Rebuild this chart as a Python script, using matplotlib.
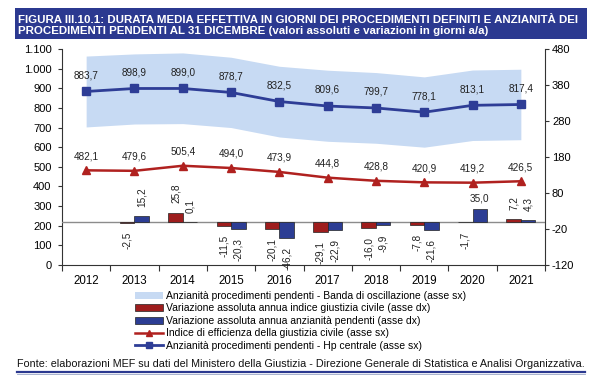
import matplotlib
matplotlib.use("Agg")
import matplotlib.pyplot as plt
import numpy as np
from matplotlib import font_manager
from matplotlib.patches import Rectangle, Patch
from matplotlib.lines import Line2D
from matplotlib.ticker import FuncFormatter

# --- dati ---
anni = ["2012", "2013", "2014", "2015", "2016", "2017", "2018", "2019", "2020", "2021"]
anzianita = [883.7, 898.9, 899.0, 878.7, 832.5, 809.6, 799.7, 778.1, 813.1, 817.4]
indice = [482.1, 479.6, 505.4, 494.0, 473.9, 444.8, 428.8, 420.9, 419.2, 426.5]
banda_sup = [1064, 1075, 1080, 1058, 1012, 992, 980, 958, 993, 997]
banda_inf = [703, 718, 720, 700, 652, 630, 620, 600, 634, 638]
var_indice = [None, -2.5, 25.8, -11.5, -20.1, -29.1, -16.0, -7.8, -1.7, 7.2]
var_anzianita = [None, 15.2, 0.1, -20.3, -46.2, -22.9, -9.9, -21.6, 35.0, 4.3]
# etichette scritte in orizzontale nel grafico originale
etichette_orizzontali = {("blu", "2020")}

nomi = [f.name for f in font_manager.fontManager.ttflist]
FONT = "Liberation Sans"
NARROW = "Liberation Sans Narrow" if "Liberation Sans Narrow" in nomi else "Liberation Sans"

BLU_TITOLO = "#2b3990"
BLU = "#2e3d96"
ROSSO = "#b0211f"
BAR_ROSSO = "#9e1d1d"
BAR_BLU = "#2c3d94"
BANDA = "#c7daf3"


def it_num(v, dec=1):
    s = f"{v:,.{dec}f}"
    return s.replace(",", "X").replace(".", ",").replace("X", ".")


fig = plt.figure(figsize=(6, 3.83), dpi=100)
W, H = 600, 383

# banner del titolo
fig.patches.append(Rectangle((15 / W, 1 - 38.5 / H), 572 / W, 31 / H, transform=fig.transFigure,
                             facecolor=BLU_TITOLO, edgecolor="none"))
fig.text(17.5 / W, 1 - 20 / H,
         "FIGURA III.10.1: DURATA MEDIA EFFETTIVA IN GIORNI DEI PROCEDIMENTI DEFINITI E ANZIANITÀ DEI",
         color="white", fontsize=8.25, fontweight="bold", family=NARROW, va="center", ha="left")
fig.text(17.5 / W, 1 - 31.5 / H,
         "PROCEDIMENTI PENDENTI AL 31 DICEMBRE (valori assoluti e variazioni in giorni a/a)",
         color="white", fontsize=8.25, fontweight="bold", family=NARROW, va="center", ha="left")

ax = fig.add_axes([62 / W, 1 - 265 / H, 483 / W, 216 / H])
ax2 = ax.twinx()
x = np.arange(len(anni))

# asse sinistro: banda e linee
ax.fill_between(x, banda_inf, banda_sup, color=BANDA, lw=0, zorder=1)
ax.plot(x, anzianita, color=BLU, lw=2, marker="s", markersize=6, zorder=3)
ax.plot(x, indice, color=ROSSO, lw=1.8, marker="^", markersize=6, zorder=3)
for xi, v in zip(x, anzianita):
    ax.annotate(it_num(v), (xi, v), xytext=(0, 8), textcoords="offset points",
                ha="center", va="bottom", fontsize=7.2, family=FONT, color="#222222")
for xi, v in zip(x, indice):
    ax.annotate(it_num(v), (xi, v), xytext=(0, 6.5), textcoords="offset points",
                ha="center", va="bottom", fontsize=7.2, family=FONT, color="#222222")

ax.set_xlim(-0.5, 9.5)
ax.set_ylim(0, 1100)
ax.set_yticks(np.arange(0, 1101, 100))
ax.yaxis.set_major_formatter(FuncFormatter(lambda v, p: it_num(v, 0)))
ax.set_xticks(np.arange(-0.5, 9.6, 1))
ax.set_xticklabels([])
ax.set_xticks(x, minor=True)
ax.set_xticklabels(anni, minor=True)
ax.tick_params(axis="x", which="major", direction="out", length=4, color="#333333")
ax.tick_params(axis="x", which="minor", length=0, pad=7, labelsize=8.3)
ax.tick_params(axis="y", direction="out", length=3, pad=4.5, labelsize=8, color="#333333")
for lab in ax.get_xticklabels(minor=True) + ax.get_yticklabels():
    lab.set_family(FONT)
ax.spines["top"].set_visible(False)
ax.spines["right"].set_visible(False)
ax.spines["left"].set_color("#333333")
ax.spines["bottom"].set_color("#333333")
ax.patch.set_visible(False)

# asse destro: barre delle variazioni
w = 0.3
serie_barre = [("rosso", var_indice, -w / 2, BAR_ROSSO), ("blu", var_anzianita, w / 2, BAR_BLU)]
for nome, valori, shift, colore in serie_barre:
    xs = [xi + shift for xi, v in zip(x, valori) if v is not None]
    vs = [v for v in valori if v is not None]
    ann = [a for a, v in zip(anni, valori) if v is not None]
    ax2.bar(xs, vs, w, color=colore, edgecolor="#222222", lw=0.5, zorder=3)
    for xi, v, a in zip(xs, vs, ann):
        pos = v >= 0
        if (nome, a) in etichette_orizzontali:
            ax2.annotate(it_num(v), (xi, v), xytext=(0, 4), textcoords="offset points",
                         ha="center", va="bottom", fontsize=7.2, family=FONT, color="#222222")
        else:
            ax2.annotate(it_num(v), (xi, v), xytext=(0, 6.5 if pos else -6.5), textcoords="offset points",
                         ha="center", va="bottom" if pos else "top", rotation=90,
                         fontsize=7.2, family=FONT, color="#222222")
ax2.axhline(0, color="#8c8c8c", lw=1, zorder=2)
ax2.set_ylim(-120, 480)
ax2.set_yticks(np.arange(-120, 481, 100))
ax2.yaxis.set_major_formatter(FuncFormatter(lambda v, p: f"{v:.0f}"))
ax2.tick_params(axis="y", direction="out", length=3, pad=2, labelsize=8, color="#333333")
for lab in ax2.get_yticklabels():
    lab.set_family(FONT)
for s in ("top", "left", "bottom"):
    ax2.spines[s].set_visible(False)
ax2.spines["right"].set_color("#333333")

# legenda
handles = [
    Patch(facecolor=BANDA, edgecolor="none"),
    Patch(facecolor=BAR_ROSSO, edgecolor="#222222", lw=0.5),
    Patch(facecolor=BAR_BLU, edgecolor="#222222", lw=0.5),
    Line2D([], [], color=ROSSO, lw=1.8, marker="^", markersize=4.5),
    Line2D([], [], color=BLU, lw=2, marker="s", markersize=4.5),
]
labels = [
    "Anzianità procedimenti pendenti - Banda di oscillazione (asse sx)",
    "Variazione assoluta annua indice giustizia civile (asse dx)",
    "Variazione assoluta annua anzianità pendenti (asse dx)",
    "Indice di efficienza della giustizia civile (asse sx)",
    "Anzianità procedimenti pendenti - Hp centrale (asse sx)",
]
fig.legend(handles, labels, loc="upper left", bbox_to_anchor=(135 / W, 1 - 291 / H),
           bbox_transform=fig.transFigure, frameon=False, borderpad=0, borderaxespad=0,
           handlelength=2.7, handletextpad=0.3, labelspacing=0.23,
           prop={"family": FONT, "size": 7.5})

# fonte
fig.text(17 / W, 1 - 364 / H,
         "Fonte: elaborazioni MEF su dati del Ministero della Giustizia - Direzione Generale di Statistica e Analisi Organizzativa.",
         fontsize=7.78, family=FONT, va="center", ha="left", color="#111111")
fig.add_artist(Line2D([17 / W, 585 / W], [1 - 372 / H] * 2, transform=fig.transFigure,
                      color=BLU_TITOLO, lw=1.6))
fig.add_artist(Line2D([17 / W, 585 / W], [1 - 374 / H] * 2, transform=fig.transFigure,
                      color="#9aa6c8", lw=0.6))

fig.savefig("out.png", dpi=100)
